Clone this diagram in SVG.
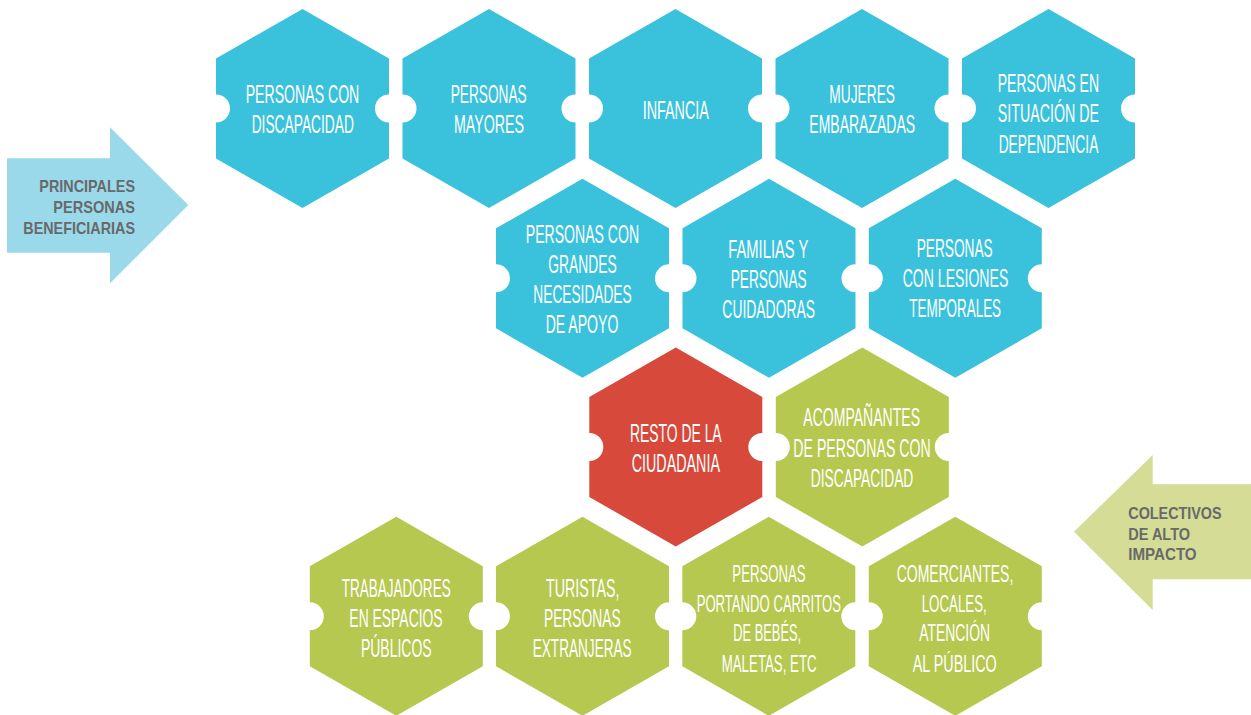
<svg xmlns="http://www.w3.org/2000/svg" xmlns:xlink="http://www.w3.org/1999/xlink" width="1251" height="715" viewBox="0 0 1251 715">
<style>
.blue{fill:#3AC2DC}
.red{fill:#D6493B}
.green{fill:#B6C84F}
.t{font-family:"Liberation Sans",Arial,sans-serif;font-size:25px;fill:#FFFFFF;text-anchor:middle}
.t4{font-size:23px}
.lab{font-family:"Liberation Sans",Arial,sans-serif;font-size:16.5px;font-weight:bold;fill:#68696B}
</style>
<defs>
<path id="hex" d="M0,-99.5 L86.5,-50 L86.5,-14 A14,14 0 0 0 86.5,14 L86.5,50 L0,99.5 L-86.5,50 L-86.5,14 A14,14 0 0 0 -86.5,-14 L-86.5,-50 Z"/>
</defs>
<rect width="1251" height="715" fill="#FFFFFF"/>

<g id="arrow-principales">
<polygon points="7,158.3 110,158.3 110,127.3 188.3,205 110,283.3 110,252.7 7,252.7" fill="#9AD9E9"/>
<text class="lab" text-anchor="end"><tspan x="135" y="191.5" textLength="95.7" lengthAdjust="spacingAndGlyphs">PRINCIPALES</tspan></text>
<text class="lab" text-anchor="end"><tspan x="135" y="212.5" textLength="81.7" lengthAdjust="spacingAndGlyphs">PERSONAS</tspan></text>
<text class="lab" text-anchor="end"><tspan x="135" y="233.5" textLength="111.7" lengthAdjust="spacingAndGlyphs">BENEFICIARIAS</tspan></text>
</g>

<g id="arrow-colectivos">
<polygon points="1251,484.3 1152.7,484.3 1152.7,455 1074,531.7 1152.7,610 1152.7,579.3 1251,579.3" fill="#D4DC96"/>
<text class="lab"><tspan x="1128.3" y="519" textLength="93.3" lengthAdjust="spacingAndGlyphs">COLECTIVOS</tspan></text>
<text class="lab"><tspan x="1128.3" y="539.5" textLength="61.7" lengthAdjust="spacingAndGlyphs">DE ALTO</tspan></text>
<text class="lab"><tspan x="1128.3" y="560" textLength="68.3" lengthAdjust="spacingAndGlyphs">IMPACTO</tspan></text>
</g>

<g id="n-discapacidad">
<use xlink:href="#hex" class="blue" transform="translate(302.5,108.5)"/>
<text class="t"><tspan x="302.5" y="103.3" textLength="113.6" lengthAdjust="spacingAndGlyphs">PERSONAS CON</tspan></text>
<text class="t"><tspan x="302.8" y="133.3" textLength="102.3" lengthAdjust="spacingAndGlyphs">DISCAPACIDAD</tspan></text>
</g>

<g id="n-mayores">
<use xlink:href="#hex" class="blue" transform="translate(489,108.5)"/>
<text class="t"><tspan x="488.7" y="103.3" textLength="76" lengthAdjust="spacingAndGlyphs">PERSONAS</tspan></text>
<text class="t"><tspan x="489" y="133.3" textLength="70" lengthAdjust="spacingAndGlyphs">MAYORES</tspan></text>
</g>

<g id="n-infancia">
<use xlink:href="#hex" class="blue" transform="translate(675.5,108.5)"/>
<text class="t"><tspan x="675.8" y="119" textLength="66.3" lengthAdjust="spacingAndGlyphs">INFANCIA</tspan></text>
</g>

<g id="n-embarazadas">
<use xlink:href="#hex" class="blue" transform="translate(862,108.5)"/>
<text class="t"><tspan x="862.2" y="103.3" textLength="65.7" lengthAdjust="spacingAndGlyphs">MUJERES</tspan></text>
<text class="t"><tspan x="862.2" y="133.3" textLength="105.7" lengthAdjust="spacingAndGlyphs">EMBARAZADAS</tspan></text>
</g>

<g id="n-dependencia">
<use xlink:href="#hex" class="blue" transform="translate(1048.5,108.5)"/>
<text class="t"><tspan x="1048.4" y="91.7" textLength="101.3" lengthAdjust="spacingAndGlyphs">PERSONAS EN</tspan></text>
<text class="t"><tspan x="1048.4" y="122" textLength="101.3" lengthAdjust="spacingAndGlyphs">SITUACIÓN DE</tspan></text>
<text class="t"><tspan x="1048.5" y="152.7" textLength="99.7" lengthAdjust="spacingAndGlyphs">DEPENDENCIA</tspan></text>
</g>

<g id="n-grandes-necesidades">
<use xlink:href="#hex" class="blue" transform="translate(582.5,278.3)"/>
<text class="t"><tspan x="582.4" y="243.3" textLength="113.3" lengthAdjust="spacingAndGlyphs">PERSONAS CON</tspan></text>
<text class="t"><tspan x="582.5" y="272.7" textLength="68.3" lengthAdjust="spacingAndGlyphs">GRANDES</tspan></text>
<text class="t"><tspan x="582.5" y="302.7" textLength="98.3" lengthAdjust="spacingAndGlyphs">NECESIDADES</tspan></text>
<text class="t"><tspan x="582" y="333.3" textLength="72.7" lengthAdjust="spacingAndGlyphs">DE APOYO</tspan></text>
</g>

<g id="n-familias">
<use xlink:href="#hex" class="blue" transform="translate(769,278.3)"/>
<text class="t"><tspan x="768.3" y="258.3" textLength="80" lengthAdjust="spacingAndGlyphs">FAMILIAS Y</tspan></text>
<text class="t"><tspan x="768.7" y="288.3" textLength="76" lengthAdjust="spacingAndGlyphs">PERSONAS</tspan></text>
<text class="t"><tspan x="768.7" y="318.3" textLength="92.7" lengthAdjust="spacingAndGlyphs">CUIDADORAS</tspan></text>
</g>

<g id="n-lesiones">
<use xlink:href="#hex" class="blue" transform="translate(955.3,278.3)"/>
<text class="t"><tspan x="954.7" y="257.3" textLength="76" lengthAdjust="spacingAndGlyphs">PERSONAS</tspan></text>
<text class="t"><tspan x="955.5" y="286.7" textLength="105.7" lengthAdjust="spacingAndGlyphs">CON LESIONES</tspan></text>
<text class="t"><tspan x="955.2" y="317.3" textLength="91.7" lengthAdjust="spacingAndGlyphs">TEMPORALES</tspan></text>
</g>

<g id="n-resto">
<use xlink:href="#hex" class="red" transform="translate(675.8,447)"/>
<text class="t"><tspan x="675.8" y="441.7" textLength="91.7" lengthAdjust="spacingAndGlyphs">RESTO DE LA</tspan></text>
<text class="t"><tspan x="675.8" y="471.7" textLength="88.3" lengthAdjust="spacingAndGlyphs">CIUDADANIA</tspan></text>
</g>

<g id="n-acompanantes">
<use xlink:href="#hex" class="green" transform="translate(862.3,447)"/>
<text class="t"><tspan x="861.7" y="426" textLength="116.7" lengthAdjust="spacingAndGlyphs">ACOMPAÑANTES</tspan></text>
<text class="t"><tspan x="862" y="456.7" textLength="137.3" lengthAdjust="spacingAndGlyphs">DE PERSONAS CON</tspan></text>
<text class="t"><tspan x="862" y="486.7" textLength="102.7" lengthAdjust="spacingAndGlyphs">DISCAPACIDAD</tspan></text>
</g>

<g id="n-trabajadores">
<use xlink:href="#hex" class="green" transform="translate(396.3,616.3)"/>
<text class="t"><tspan x="396.2" y="596.7" textLength="109" lengthAdjust="spacingAndGlyphs">TRABAJADORES</tspan></text>
<text class="t"><tspan x="396" y="626.7" textLength="93.3" lengthAdjust="spacingAndGlyphs">EN ESPACIOS</tspan></text>
<text class="t"><tspan x="396.3" y="656.7" textLength="70.7" lengthAdjust="spacingAndGlyphs">PÚBLICOS</tspan></text>
</g>

<g id="n-turistas">
<use xlink:href="#hex" class="green" transform="translate(582.5,616.3)"/>
<text class="t"><tspan x="582.7" y="596.7" textLength="73.3" lengthAdjust="spacingAndGlyphs">TURISTAS,</tspan></text>
<text class="t"><tspan x="582.3" y="626.7" textLength="76.7" lengthAdjust="spacingAndGlyphs">PERSONAS</tspan></text>
<text class="t"><tspan x="582.2" y="656.7" textLength="99" lengthAdjust="spacingAndGlyphs">EXTRANJERAS</tspan></text>
</g>

<g id="n-carritos">
<use xlink:href="#hex" class="green" transform="translate(768.8,616.3)"/>
<text class="t t4"><tspan x="769" y="581.7" textLength="73.3" lengthAdjust="spacingAndGlyphs">PERSONAS</tspan></text>
<text class="t t4"><tspan x="768.8" y="611.7" textLength="144.3" lengthAdjust="spacingAndGlyphs">PORTANDO CARRITOS</tspan></text>
<text class="t t4"><tspan x="767.2" y="641" textLength="67.7" lengthAdjust="spacingAndGlyphs">DE BEBÉS,</tspan></text>
<text class="t t4"><tspan x="769.2" y="671.7" textLength="95" lengthAdjust="spacingAndGlyphs">MALETAS, ETC</tspan></text>
</g>

<g id="n-comerciantes">
<use xlink:href="#hex" class="green" transform="translate(955.3,616.3)"/>
<text class="t t4"><tspan x="955" y="581.7" textLength="116.7" lengthAdjust="spacingAndGlyphs">COMERCIANTES,</tspan></text>
<text class="t t4"><tspan x="954.2" y="611.7" textLength="65" lengthAdjust="spacingAndGlyphs">LOCALES,</tspan></text>
<text class="t t4"><tspan x="954.7" y="641" textLength="70.7" lengthAdjust="spacingAndGlyphs">ATENCIÓN</tspan></text>
<text class="t t4"><tspan x="954.7" y="671.7" textLength="84" lengthAdjust="spacingAndGlyphs">AL PÚBLICO</tspan></text>
</g>

<g id="connectors"></g>
</svg>
